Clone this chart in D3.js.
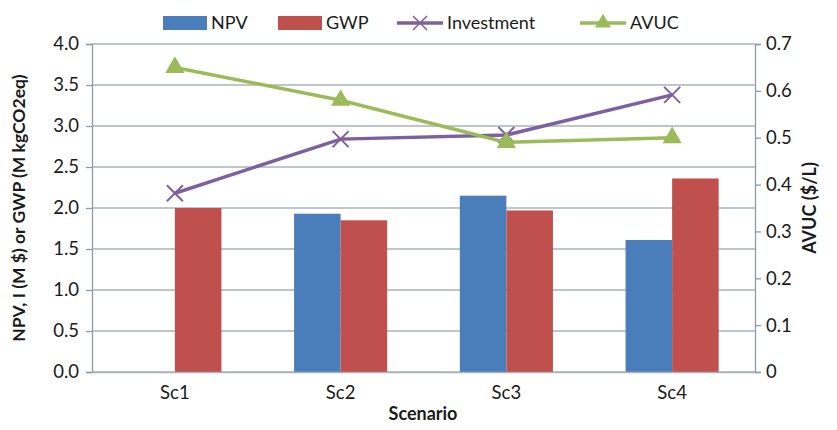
<!DOCTYPE html>
<html>
<head>
<meta charset="utf-8">
<script src="https://cdn.jsdelivr.net/npm/d3@7"></script>
<style>
  body { margin: 0; background: #fff; }
  text { font-family: Lato, "Open Sans", sans-serif; fill: #1a1a1a; }
</style>
</head>
<body>
<svg id="chart" width="837" height="430"></svg>
<script>
const scenarios = ["Sc1", "Sc2", "Sc3", "Sc4"];
const npv = [0, 1.93, 2.15, 1.61];
const gwp = [2.0, 1.85, 1.97, 2.36];
const investment = [2.18, 2.84, 2.89, 3.38];
const avuc = [0.65, 0.58, 0.49, 0.50];
const leftTicks = [0, 0.5, 1, 1.5, 2, 2.5, 3, 3.5, 4];
const rightTicks = [0, 0.1, 0.2, 0.3, 0.4, 0.5, 0.6, 0.7];

const colors = { npv: "#4a7ebb", gwp: "#c0504d", inv: "#7d60a0", avuc: "#9bbb59" };

const svg = d3.select("#chart");
const plotL = 92, plotR = 755, plotT = 44, plotB = 372;

const x = d3.scaleBand().domain(scenarios).range([plotL, plotR]);
const xs = d3.scaleBand().domain(["npv", "gwp"]).range([0, x.bandwidth()]).paddingOuter(0.78).paddingInner(0);
const y = d3.scaleLinear().domain([0, 4]).range([plotB, plotT]);
const y2 = d3.scaleLinear().domain([0, 0.7]).range([plotB, plotT]);

// gridlines
svg.append("g").selectAll("line").data(leftTicks).join("line")
  .attr("x1", plotL).attr("x2", plotR)
  .attr("y1", d => y(d)).attr("y2", d => y(d))
  .attr("stroke", "#a9b3bc").attr("stroke-width", 1.3);

// bars
const rows = scenarios.map((s, i) => ({ s, npv: npv[i], gwp: gwp[i] }));
const grp = svg.append("g").selectAll("g").data(rows).join("g")
  .attr("transform", d => `translate(${x(d.s)},0)`);
grp.selectAll("rect").data(d => ["npv", "gwp"].map(k => ({ k, v: d[k] }))).join("rect")
  .attr("x", d => xs(d.k)).attr("width", xs.bandwidth())
  .attr("y", d => y(d.v)).attr("height", d => y(0) - y(d.v))
  .attr("fill", d => colors[d.k]);

// axes
const yAxis = svg.append("g").attr("transform", `translate(${plotL},0)`)
  .call(d3.axisLeft(y).tickValues(leftTicks).tickFormat(d3.format(".1f")).tickSize(6).tickPadding(7));
const yAxis2 = svg.append("g").attr("transform", `translate(${plotR},0)`)
  .call(d3.axisRight(y2).tickValues(rightTicks).tickFormat(d => d === 0 ? "0" : d3.format(".1f")(d)).tickSize(6).tickPadding(5));
const xAxis = svg.append("g").attr("transform", `translate(0,${plotB})`)
  .call(d3.axisBottom(x).tickSize(0).tickPadding(14));
[yAxis, yAxis2, xAxis].forEach(a => {
  a.selectAll("path, line").attr("stroke", "#8e9aa6").attr("stroke-width", 1.3);
  a.selectAll("text").attr("font-size", 18.5).attr("fill", "#1a1a1a")
    .style("font-family", "Lato, 'Open Sans', sans-serif");
});
xAxis.select(".domain").attr("stroke", "#a9b3bc");

// lines
const cx = s => x(s) + x.bandwidth() / 2;
const lineInv = d3.line().x((d, i) => cx(scenarios[i])).y(d => y(d));
const lineAvuc = d3.line().x((d, i) => cx(scenarios[i])).y(d => y2(d));

svg.append("path").datum(investment).attr("d", lineInv)
  .attr("fill", "none").attr("stroke", colors.inv).attr("stroke-width", 3.5);
svg.append("g").selectAll("path").data(investment).join("path")
  .attr("transform", (d, i) => `translate(${cx(scenarios[i])},${y(d)})`)
  .attr("d", "M-8,-8L8,8M-8,8L8,-8")
  .attr("stroke", colors.inv).attr("stroke-width", 2).attr("fill", "none");

svg.append("path").datum(avuc).attr("d", lineAvuc)
  .attr("fill", "none").attr("stroke", colors.avuc).attr("stroke-width", 3.5);
svg.append("g").selectAll("path").data(avuc).join("path")
  .attr("transform", (d, i) => `translate(${cx(scenarios[i])},${y2(d)})`)
  .attr("d", d3.symbol(d3.symbolTriangle, 160))
  .attr("fill", colors.avuc);

// axis titles
svg.append("text").attr("transform", `translate(25,${(plotT + plotB) / 2}) rotate(-90)`)
  .attr("text-anchor", "middle").attr("font-size", 17.5).attr("font-weight", "bold")
  .text("NPV, I  (M $) or GWP (M kgCO2eq)");
svg.append("text").attr("transform", `translate(816,${(plotT + plotB) / 2}) rotate(-90)`)
  .attr("text-anchor", "middle").attr("font-size", 18).attr("font-weight", "bold")
  .text("AVUC ($/L)");
svg.append("text").attr("x", 423).attr("y", 420)
  .attr("text-anchor", "middle").attr("font-size", 18).attr("font-weight", "bold")
  .text("Scenario");

// legend
const legend = [
  { name: "NPV", type: "bar", c: colors.npv, x: 163 },
  { name: "GWP", type: "bar", c: colors.gwp, x: 278 },
  { name: "Investment", type: "x", c: colors.inv, x: 397 },
  { name: "AVUC", type: "tri", c: colors.avuc, x: 580 }
];
const lg = svg.append("g").selectAll("g").data(legend).join("g")
  .attr("transform", d => `translate(${d.x},23)`);
lg.filter(d => d.type === "bar").append("rect")
  .attr("x", 0).attr("y", -7).attr("width", 44).attr("height", 14).attr("fill", d => d.c);
lg.filter(d => d.type !== "bar").append("line")
  .attr("x1", 0).attr("x2", 46).attr("stroke", d => d.c).attr("stroke-width", 3.5);
lg.filter(d => d.type === "x").append("path")
  .attr("transform", "translate(23,0)").attr("d", "M-7,-7L7,7M-7,7L7,-7")
  .attr("stroke", d => d.c).attr("stroke-width", 1.5);
lg.filter(d => d.type === "tri").append("path")
  .attr("transform", "translate(23,0)").attr("d", d3.symbol(d3.symbolTriangle, 110))
  .attr("fill", d => d.c);
lg.append("text").attr("x", d => d.type === "bar" ? 48 : 50).attr("y", 6)
  .attr("font-size", 18).text(d => d.name);
</script>
</body>
</html>
